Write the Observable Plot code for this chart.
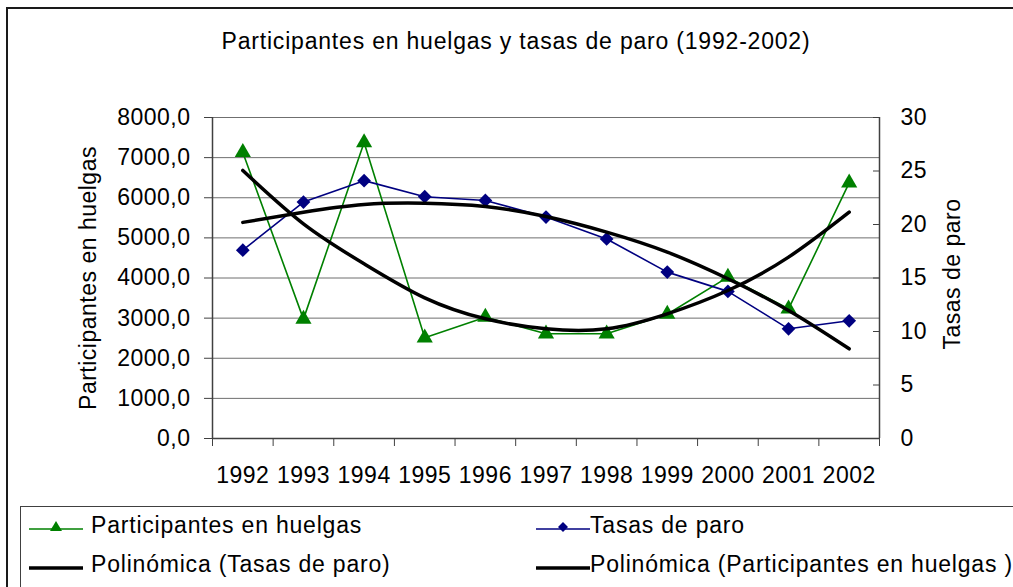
<!DOCTYPE html>
<html>
<head>
<meta charset="utf-8">
<script src="https://cdn.jsdelivr.net/npm/d3@7"></script>
<script src="https://cdn.jsdelivr.net/npm/@observablehq/plot@0.6"></script>
<style>
  html, body { margin: 0; padding: 0; background: #fff; }
  #chart { position: relative; width: 1013px; height: 587px; overflow: hidden; background: #fff;
           font-family: "Liberation Sans", Arial, sans-serif; color: #000; }
  #frame { position: absolute; left: 6px; top: 7px; width: 1100px; height: 700px; border: 2px solid #1a1a1a; }
  #title { position: absolute; left: 0; top: 30px; width: 1032px; text-align: center; font-size: 23px;
           line-height: 23px; letter-spacing: 0.8px; white-space: nowrap; }
  #plot { position: absolute; left: 0; top: 0; }
  #legendbox { position: absolute; left: 20px; top: 506px; width: 1100px; height: 200px; border: 1.5px solid #404040; }
  .item { position: absolute; height: 24px; font-size: 23px; line-height: 23px; letter-spacing: 0.8px; white-space: nowrap; }
  .item svg { position: absolute; left: 0; top: 5px; }
  .item span { position: absolute; top: 0; }
</style>
</head>
<body>
<div id="chart">
  <div id="frame"></div>
  <div id="title"></div>
  <div id="plot"></div>
  <div id="legendbox"></div>
</div>
<script>
// ---- data ----
const titleText = "Participantes en huelgas y tasas de paro (1992-2002)";
const years = [1992, 1993, 1994, 1995, 1996, 1997, 1998, 1999, 2000, 2001, 2002];
const participantes = [7130, 2975, 7377, 2509, 3024, 2609, 2609, 3098, 4021, 3232, 6372];
const tasasParo = [17.6, 22.1, 24.1, 22.6, 22.25, 20.7, 18.65, 15.55, 13.75, 10.25, 11.0];
const tendenciaParticipantes = [6680, 5350, 4354, 3506, 2983, 2733, 2733, 3107, 3688, 4520, 5641];
const tendenciaTasas = [20.2, 21.15, 21.87, 21.99, 21.68, 20.75, 19.29, 17.42, 14.93, 11.96, 8.38];
const leftTicks = [0, 1000, 2000, 3000, 4000, 5000, 6000, 7000, 8000];
const rightTicks = [0, 5, 10, 15, 20, 25, 30];
const leftMax = 8000, rightMax = 30;
const leftLabel = "Participantes en huelgas";
const rightLabel = "Tasas de paro";
const seriesNames = ["Participantes en huelgas", "Tasas de paro",
                     "Polinómica (Tasas de paro)", "Polinómica (Participantes en huelgas )"];

// ---- build table ----
const k = leftMax / rightMax;
const rows = years.map((year, i) => ({
  year,
  part: participantes[i],
  tasa: tasasParo[i],
  tPart: tendenciaParticipantes[i],
  tTasa: tendenciaTasas[i]
}));
const boundaries = d3.range(years[0] - 0.5, years[years.length - 1] + 1, 1);

const GREEN = "#008000", NAVY = "#000080", AXIS = "#404040", GRID = "#6f6f6f";
const FONT = "'Liberation Sans', Arial, sans-serif";

document.getElementById("title").textContent = titleText;

const plot = Plot.plot({
  width: 1013,
  height: 587,
  marginTop: 117,
  marginBottom: 149,
  marginLeft: 212,
  marginRight: 134,
  style: { fontFamily: FONT, fontSize: "23px", background: "transparent", color: "#000" },
  x: { type: "linear", domain: [years[0] - 0.5, years[years.length - 1] + 0.5] },
  y: { domain: [0, leftMax] },
  marks: [
    Plot.gridY(leftTicks.slice(1), { stroke: GRID, strokeOpacity: 1, strokeWidth: 1 }),
    Plot.ruleY([0], { stroke: AXIS, strokeWidth: 1.5 }),
    Plot.ruleX([boundaries[0], boundaries[boundaries.length - 1]], { stroke: AXIS, strokeWidth: 1.5 }),
    // left axis
    Plot.axisY(leftTicks, { anchor: "left", tickSize: 8, tickPadding: 14, stroke: AXIS, fontSize: 23,
      fill: "#000", label: null, tickFormat: d => d.toFixed(1).replace(".", ",") }),
    // right axis (inner ticks + labels)
    Plot.axisY(rightTicks.map(v => v * k), { anchor: "right", tickSize: 7, dx: -7, stroke: AXIS,
      label: null, tickFormat: () => "" }),
    Plot.axisY(rightTicks.map(v => v * k), { anchor: "right", tickSize: 0, tickPadding: 21, fontSize: 23,
      fill: "#000", label: null, textAnchor: "start", tickFormat: d => String(Math.round(d / k)) }),
    // x axis
    Plot.axisX(boundaries, { anchor: "bottom", tickSize: 8, stroke: AXIS, label: null, tickFormat: () => "" }),
    Plot.axisX(years, { anchor: "bottom", tickSize: 0, tickPadding: 28, fontSize: 23, fill: "#000",
      label: null, tickFormat: d => String(d) }),
    // axis titles
    Plot.text([leftLabel], { frameAnchor: "left", textAnchor: "middle", dx: -124, rotate: -90, fontSize: 23, fill: "#000" }),
    Plot.text([rightLabel], { frameAnchor: "right", textAnchor: "middle", dx: 73, dy: -4, rotate: -90, fontSize: 23, fill: "#000" }),
    // series
    Plot.line(rows, { x: "year", y: "part", stroke: GREEN, strokeWidth: 1.6 }),
    Plot.dot(rows, { x: "year", y: "part", symbol: "triangle", r: 6, fill: GREEN, stroke: "none" }),
    Plot.line(rows, { x: "year", y: d => d.tasa * k, stroke: NAVY, strokeWidth: 1.6 }),
    Plot.dot(rows, { x: "year", y: d => d.tasa * k, symbol: "diamond2", r: 6.2, fill: NAVY, stroke: "none" }),
    // trend lines
    Plot.line(rows, { x: "year", y: d => d.tTasa * k, stroke: "#000", strokeWidth: 3.5, curve: "natural" }),
    Plot.line(rows, { x: "year", y: "tPart", stroke: "#000", strokeWidth: 3.5, curve: "natural" })
  ]
});
plot.querySelectorAll("text").forEach(t => t.setAttribute("letter-spacing", "0.5"));
document.getElementById("plot").appendChild(plot);

// ---- legend ----
const legendItems = [
  { name: seriesNames[0], left: 29, top: 514, color: GREEN, width: 1.6, marker: "triangle" },
  { name: seriesNames[1], left: 536, top: 514, color: NAVY, width: 1.6, marker: "diamond" },
  { name: seriesNames[2], left: 29, top: 553, color: "#000", width: 3.5, marker: null },
  { name: seriesNames[3], left: 536, top: 553, color: "#000", width: 3.5, marker: null }
];
const chart = document.getElementById("chart");
legendItems.forEach(it => {
  const div = document.createElement("div");
  div.className = "item";
  div.style.left = it.left + "px";
  div.style.top = it.top + "px";
  let m = "";
  if (it.marker === "triangle") m = `<path d="M27,2 L33,12 L21,12 Z" fill="${it.color}"/>`;
  if (it.marker === "diamond") m = `<path d="M27,3 L32,8 L27,13 L22,8 Z" fill="${it.color}"/>`;
  div.innerHTML = `<svg width="56" height="16"><line x1="0" x2="54" y1="10" y2="10" stroke="${it.color}" stroke-width="${it.width}"/>${m}</svg><span style="left:${it.left === 29 ? 62 : 54}px"></span>`;
  div.querySelector("span").textContent = it.name;
  chart.appendChild(div);
});
</script>
</body>
</html>
